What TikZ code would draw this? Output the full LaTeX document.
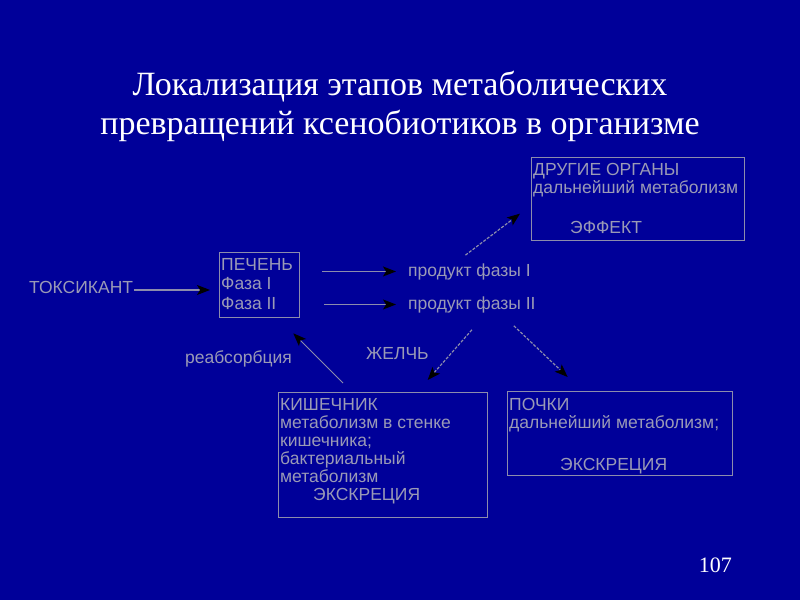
\documentclass[tikz,border=0pt]{standalone}
\usepackage{fontspec}
\setmainfont{Liberation Serif}
\newfontfamily\slidesans{Liberation Sans}
\usetikzlibrary{positioning, arrows.meta, calc}
\definecolor{slidebg}{HTML}{000099}
\definecolor{slidegray}{HTML}{9A9AB6}
\definecolor{slideline}{HTML}{8C8CAC}
\definecolor{slidewhite}{HTML}{FFFFFF}

\begin{document}
\begin{tikzpicture}[x=1pt, y=-1pt,
    organbox/.style={draw=slideline, line width=1.3pt, anchor=north west, inner sep=0pt},
    boxtext/.style={text=slidegray, font=\slidesans\fontsize{17.5}{18}\selectfont, align=left, anchor=north west, inner sep=2pt},
    plaintext/.style={text=slidegray, font=\slidesans\fontsize{17.5}{18}\selectfont, anchor=base west, inner sep=1pt},
    flow/.style={draw=slideline, line width=1.2pt, -{Stealth[black, length=13pt, width=10pt, inset=3pt]}},
    flowdash/.style={flow, dash pattern=on 3pt off 1.5pt}]
  \useasboundingbox (0,0) rectangle (800,600);
  \fill[slidebg] (0,0) rectangle (800,600);
  \node[text=slidewhite, align=center, inner sep=0pt, anchor=north, font=\fontsize{34}{39}\selectfont] (title) at (400,71) {Локализация этапов метаболических\\превращений ксенобиотиков в организме};

  \node[organbox, minimum width=213, minimum height=83] (other) at (531,157) {};
  \node[boxtext] (othertxt) at ($(other.north west)+(0,4)$) {ДРУГИЕ ОРГАНЫ\\дальнейший метаболизм\\[22pt]\hspace*{37pt}ЭФФЕКТ};
  \node[organbox, minimum width=80, minimum height=65] (liver) at (219,252) {};
  \node[boxtext, font=\slidesans\fontsize{17.5}{19.5}\selectfont] (livertxt) at ($(liver.north west)+(0,4)$) {ПЕЧЕНЬ\\Фаза I\\Фаза II};
  \node[organbox, minimum width=209, minimum height=125] (gut) at (278,392) {};
  \node[boxtext] (guttxt) at ($(gut.north west)+(0,4)$) {КИШЕЧНИК\\метаболизм в стенке\\кишечника;\\бактериальный\\метаболизм\\\hspace*{33pt}ЭКСКРЕЦИЯ};
  \node[organbox, minimum width=225, minimum height=84] (kidney) at (507,391) {};
  \node[boxtext] (kidneytxt) at ($(kidney.north west)+(0,5)$) {ПОЧКИ\\дальнейший метаболизм;\\[24pt]\hspace*{51pt}ЭКСКРЕЦИЯ};

  \node[plaintext] (toxicant) at (28,293) {ТОКСИКАНТ};
  \node[plaintext] (prod1) at (407,276) {продукт фазы I};
  \node[plaintext] (prod2) at (407,309) {продукт фазы II};
  \node[plaintext] (bile) at (365,359) {ЖЕЛЧЬ};
  \node[plaintext] (reabs) at (184,363) {реабсорбция};
  \node[text=slidewhite, inner sep=0pt, anchor=base east, font=\fontsize{22}{26}\selectfont] (pagenum) at (732,572) {107};

  \draw[flow, shorten >=9pt] ([yshift=-3pt]toxicant.east) -- ([yshift=-3pt]toxicant.east -| liver.west);
  \draw[flow, shorten <=22pt, shorten >=11pt] (prod1.west -| liver.east) -- (prod1.west);
  \draw[flow, line width=1pt, shorten <=24pt, shorten >=11pt] (prod2.west -| liver.east) -- (prod2.west);
  \draw[flowdash] ($(prod1.north)+(-4,-7)$) -- ($(other.west)+(-11,14.5)$);
  \draw[flowdash] ($(prod2.south)+(0,16)$) -- ($(gut.north)+(44.5,-12)$);
  \draw[flowdash] ($(prod2.south)+(42,12)$) -- ($(kidney.north)+(-52.5,-14)$);
  \draw[flow, line width=1pt] ($(gut.north west)+(65,-9)$) -- ($(liver.south east)+(-7,15)$);
\end{tikzpicture}
\end{document}
